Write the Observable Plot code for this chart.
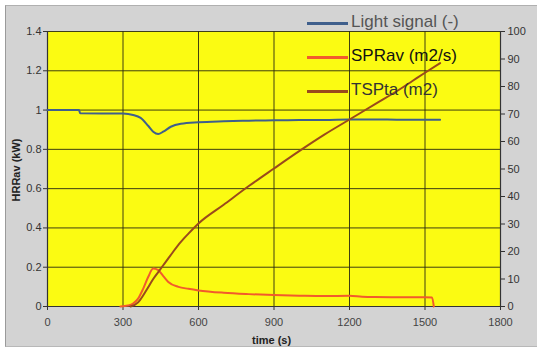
<!DOCTYPE html>
<html>
<head>
<meta charset="utf-8">
<script src="https://cdn.jsdelivr.net/npm/d3@7"></script>
<script src="https://cdn.jsdelivr.net/npm/@observablehq/plot@0.6"></script>
<style>
  body { margin:0; background:#fff; font-family:"Liberation Sans", Arial, sans-serif; }
  #wrap { position:relative; width:537px; height:351px; overflow:hidden; }
  #bg { position:absolute; left:5px; top:5px; right:0; bottom:4px; background:#d3d3d3; border-left:1px solid #9a9a9a; border-top:1px solid #b0b0b0; border-bottom:1px solid #b8b8b8; }
  #chart { position:absolute; left:0; top:0; }
  .lg { position:absolute; font-size:17px; line-height:1; white-space:nowrap; }
  .sw { position:absolute; height:3px; width:41px; }
  .ttl { position:absolute; font-weight:bold; font-size:11px; color:#222; white-space:nowrap; }
</style>
</head>
<body>
<div id="wrap">
  <div id="bg"></div>
  <div id="chart"></div>
  <div id="legend"></div>
  <div class="ttl" style="left:252px; top:334px;">time (s)</div>
  <div class="ttl" style="left:16px; top:170px; transform:translate(-50%,-50%) rotate(-90deg);">HRRav (kW)</div>
</div>
<script>
// ---- data ----
const xTicks = [0, 300, 600, 900, 1200, 1500, 1800];
const yTicks = [0, 0.2, 0.4, 0.6, 0.8, 1, 1.2, 1.4];
const rightTicks = [0, 10, 20, 30, 40, 50, 60, 70, 80, 90, 100];

const lightT = [0, 125, 130, 300, 340, 370, 400, 420, 440, 460, 490, 530, 600, 700, 800, 900, 1000, 1100, 1200, 1300, 1400, 1500, 1560];
const lightV = [1.0, 1.0, 0.984, 0.982, 0.975, 0.96, 0.92, 0.89, 0.878, 0.89, 0.915, 0.93, 0.938, 0.943, 0.946, 0.948, 0.95, 0.95, 0.952, 0.952, 0.951, 0.951, 0.951];

const sprT = [290, 320, 340, 360, 380, 400, 420, 440, 460, 480, 520, 560, 600, 700, 800, 900, 1000, 1100, 1200, 1250, 1300, 1400, 1500, 1528, 1535];
const sprV = [0, 0.005, 0.015, 0.04, 0.09, 0.15, 0.193, 0.185, 0.155, 0.125, 0.1, 0.09, 0.082, 0.07, 0.063, 0.058, 0.055, 0.053, 0.055, 0.05, 0.048, 0.047, 0.047, 0.046, 0];

const tspT = [330, 360, 380, 400, 420, 440, 460, 480, 500, 530, 560, 600, 700, 800, 900, 1000, 1100, 1200, 1300, 1400, 1450, 1500, 1560];
const tspV = [0, 1.5, 4, 7, 10, 12.5, 15, 17.5, 20, 23.5, 26.5, 30.2, 37, 43.8, 50.2, 56.5, 62.5, 68, 73.5, 79, 82, 85, 88.5];

const seriesNames = ["Light signal (-)", "SPRav (m2/s)", "TSPta (m2)"];
const seriesColors = ["#3f5f8c", "#f25a2c", "#9a4a1c"];

// ---- build ----
const k = 1.4 / 100; // right axis (0..100) onto left scale (0..1.4)
const light = lightT.map((t, i) => ({t, v: lightV[i]}));
const spr = sprT.map((t, i) => ({t, v: sprV[i]}));
const tsp = tspT.map((t, i) => ({t, v: tspV[i] * k}));
const fmt = d => String(+d.toFixed(1));

const plot = Plot.plot({
  width: 537, height: 351,
  marginLeft: 47, marginRight: 37, marginTop: 31, marginBottom: 45,
  style: {background: "transparent", fontFamily: "Liberation Sans, Arial, sans-serif", fontSize: "11px", color: "#333"},
  x: {domain: [0, 1800], label: null},
  y: {domain: [0, 1.4], label: null},
  marks: [
    Plot.frame({fill: "#fbfb12", stroke: null}),
    Plot.gridX(xTicks, {stroke: "#2a2a10", strokeOpacity: 0.9, strokeWidth: 1}),
    Plot.gridY(yTicks, {stroke: "#2a2a10", strokeOpacity: 0.9, strokeWidth: 1}),
    Plot.axisX(xTicks, {tickSize: 4, tickPadding: 8, tickFormat: d => String(d), label: null, stroke: "#333", fill: "#444"}),
    Plot.axisY(yTicks, {tickSize: 4, tickPadding: 2, tickFormat: fmt, label: null, stroke: "#333", fill: "#333"}),
    Plot.axisY(rightTicks.map(v => v * k), {anchor: "right", tickSize: 4, tickPadding: 3, tickFormat: d => String(Math.round(d / k)), label: null, stroke: "#333", fill: "#333"}),
    Plot.ruleX([0, 1800], {stroke: "#333", strokeWidth: 1.2}),
    Plot.ruleY([0], {stroke: "#333", strokeWidth: 1.2}),
    Plot.line(light, {x: "t", y: "v", stroke: seriesColors[0], strokeWidth: 2, curve: "monotone-x"}),
    Plot.line(spr, {x: "t", y: "v", stroke: seriesColors[1], strokeWidth: 2, curve: "monotone-x"}),
    Plot.line(tsp, {x: "t", y: "v", stroke: seriesColors[2], strokeWidth: 2, curve: "monotone-x"})
  ]
});
document.getElementById("chart").appendChild(plot);

// legend
const lg = document.getElementById("legend");
const rowsY = [23, 57, 91];
const txtColors = ["#555", "#111", "#333"];
seriesNames.forEach((name, i) => {
  const sw = document.createElement("div");
  sw.className = "sw";
  sw.style.left = "307px";
  sw.style.top = (rowsY[i] - 1.5) + "px";
  sw.style.background = seriesColors[i];
  lg.appendChild(sw);
  const tx = document.createElement("div");
  tx.className = "lg";
  tx.style.left = "351px";
  tx.style.top = (rowsY[i] - 10) + "px";
  tx.style.color = txtColors[i];
  tx.textContent = name;
  lg.appendChild(tx);
});
</script>
</body>
</html>
